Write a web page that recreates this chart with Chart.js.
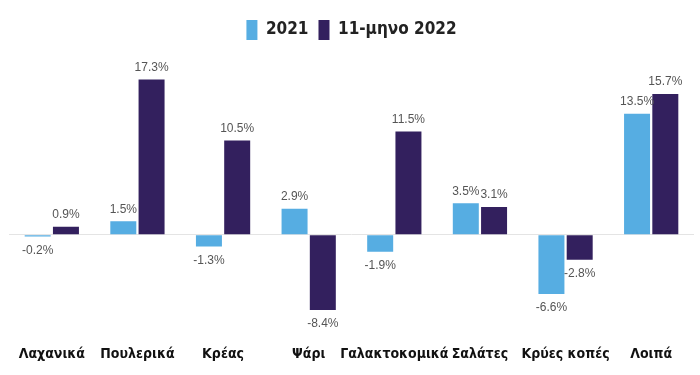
<!DOCTYPE html>
<html>
<head>
<meta charset="utf-8">
<script src="https://cdn.jsdelivr.net/npm/chart.js@4/dist/chart.umd.min.js"></script>
<style>
  body { margin: 0; background: #fff; }
  #wrap { width: 700px; height: 375px; }
</style>
</head>
<body>
<div id="wrap"><canvas id="foodChart"></canvas></div>
<script>
const categories = ['Λαχανικά', 'Πουλερικά', 'Κρέας', 'Ψάρι', 'Γαλακτοκομικά', 'Σαλάτες', 'Κρύες κοπές', 'Λοιπά'];
const values2021 = [-0.2, 1.5, -1.3, 2.9, -1.9, 3.5, -6.6, 13.5];
const values2022 = [0.9, 17.3, 10.5, -8.4, 11.5, 3.1, -2.8, 15.7];
const seriesNames = ['2021', '11-μηνο 2022'];

const labelFont = '"DejaVu Sans Condensed", "Liberation Sans Narrow", sans-serif';

// draw the % value over / under each bar
const valueLabels = {
  id: 'valueLabels',
  afterDatasetsDraw(chart) {
    const ctx = chart.ctx;
    ctx.save();
    ctx.font = '12px "Liberation Sans", Arial, sans-serif';
    ctx.fillStyle = '#555';
    ctx.textAlign = 'center';
    chart.data.datasets.forEach((ds, i) => {
      chart.getDatasetMeta(i).data.forEach((bar, j) => {
        const v = ds.data[j];
        if (v >= 0) {
          ctx.textBaseline = 'bottom';
          ctx.fillText(v.toFixed(1) + '%', bar.x, bar.y - 6);
        } else {
          ctx.textBaseline = 'top';
          ctx.fillText(v.toFixed(1) + '%', bar.x, bar.y + 8);
        }
      });
    });
    ctx.restore();
  }
};

new Chart('foodChart', {
  type: 'bar',
  data: {
    labels: categories,
    datasets: [
      { label: seriesNames[0], data: values2021, backgroundColor: '#56ade2' },
      { label: seriesNames[1], data: values2022, backgroundColor: '#33205e' }
    ]
  },
  options: {
    responsive: true,
    maintainAspectRatio: false,
    animation: false,
    datasets: { bar: { categoryPercentage: 0.66, barPercentage: 0.92 } },
    layout: { padding: { left: 9, right: 6, top: 10, bottom: 0 } },
    plugins: {
      legend: {
        labels: {
          boxWidth: 11,
          boxHeight: 20,
          padding: 10,
          color: '#222',
          font: { family: labelFont, size: 17, weight: 'bold' }
        }
      },
      tooltip: { enabled: false }
    },
    scales: {
      x: {
        grid: { display: false },
        border: { display: false },
        ticks: {
          color: '#111',
          padding: 12,
          autoSkip: false,
          maxRotation: 0,
          minRotation: 0,
          font: { family: labelFont, size: 14, weight: 'bold' }
        }
      },
      y: {
        min: -10.2,
        max: 20.6,
        ticks: { display: false, stepSize: 10 },
        border: { display: false },
        grid: {
          drawTicks: false,
          color: (c) => c.tick && c.tick.value === 0 ? '#e4e4e4' : 'rgba(0,0,0,0)'
        }
      }
    }
  },
  plugins: [valueLabels]
});
</script>
</body>
</html>
